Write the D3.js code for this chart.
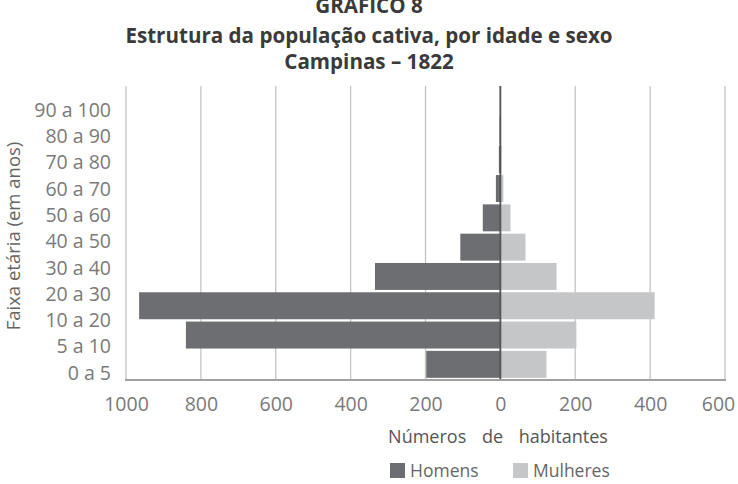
<!DOCTYPE html>
<html><head><meta charset="utf-8">
<script src="https://cdn.jsdelivr.net/npm/d3@7"></script>
<style>body{margin:0;background:#fff}svg{display:block}</style>
</head><body>
<svg id="c" width="738" height="484"></svg>
<script>
// Data (bars listed bottom → top, as drawn in the original)
const ageLabels = ["0 a 5","5 a 10","10 a 20","20 a 30","30 a 40","40 a 50","50 a 60","60 a 70","70 a 80","80 a 90","90 a 100"];
const barIndex = [0,1,2,3,4,5,6,7,8,9];
const homens   = [198, 840, 965, 335, 107, 47, 12, 4, 2, 1];
const mulheres = [123, 203, 412, 150,  67, 27,  8, 3, 1, 0];
const xTicks = [-1000,-800,-600,-400,-200,0,200,400,600];
const titleLines = ["GRÁFICO 8","Estrutura da população cativa, por idade e sexo","Campinas – 1822"];
const seriesNames = ["Homens","Mulheres"];
const colors = ["#6d6e71","#c5c6c8"];

const svg = d3.select("#c");
const font = "'Open Sans', 'Noto Sans', sans-serif";
const L = 126, R = 725, T = 86, B = 379;

const x = d3.scaleLinear().domain([-1000, 600]).range([L, R]);
const yBar = d3.scaleBand().domain(barIndex).range([B, T]).paddingInner(0.08).paddingOuter(0.04);
const yLab = d3.scalePoint().domain(ageLabels).range([373, 110]);

// title
const titleY = [13, 43, 69];
svg.append("g").selectAll("text").data(titleLines).join("text")
  .attr("x", 369).attr("y", (d,i) => titleY[i])
  .attr("text-anchor","middle").attr("font-family",font).attr("font-weight","bold")
  .attr("font-size",20.6).attr("fill","#3a3a3a").text(d => d);

// gridlines
svg.append("g").selectAll("line").data(xTicks).join("line")
  .attr("x1", d => x(d)).attr("x2", d => x(d)).attr("y1", T).attr("y2", B)
  .attr("stroke","#c4c4c4").attr("stroke-width",1.3);

// bars
const gb = svg.append("g");
gb.selectAll("rect.h").data(barIndex).join("rect").attr("class","h")
  .attr("x", i => x(-homens[i])).attr("width", i => x(0) - x(-homens[i]))
  .attr("y", i => yBar(i)).attr("height", yBar.bandwidth()).attr("fill", colors[0]);
gb.selectAll("rect.m").data(barIndex).join("rect").attr("class","m")
  .attr("x", x(0)).attr("width", i => x(mulheres[i]) - x(0))
  .attr("y", i => yBar(i)).attr("height", yBar.bandwidth()).attr("fill", colors[1]);

// zero line & baseline
svg.append("line").attr("x1", x(0)).attr("x2", x(0)).attr("y1", T).attr("y2", B+1)
  .attr("stroke","#555").attr("stroke-width",1.8);
svg.append("line").attr("x1", L-1).attr("x2", R+1).attr("y1", B+1).attr("y2", B+1)
  .attr("stroke","#a0a0a0").attr("stroke-width",2);

// x tick labels
const xa = svg.append("g").attr("transform", `translate(0,${B+1})`)
  .call(d3.axisBottom(x).tickValues(xTicks).tickSize(0).tickPadding(17).tickFormat(d => Math.abs(d)));
xa.select(".domain").remove();
xa.selectAll("text").attr("font-family",font).attr("font-size",19.5).attr("fill","#7a7a7a")
  .attr("dx", d => d === 600 ? -7 : 0);

// y labels
const ya = svg.append("g").attr("transform", `translate(111,0)`)
  .call(d3.axisLeft(yLab).tickSize(0).tickPadding(0));
ya.select(".domain").remove();
ya.selectAll("text").attr("font-family",font).attr("font-size",19.5).attr("fill","#7a7a7a");

// axis titles
svg.append("text").attr("x", 498).attr("y", 443).attr("text-anchor","middle")
  .attr("font-family",font).attr("font-size",18).attr("fill","#555").attr("word-spacing",11)
  .text("Números de habitantes");
svg.append("text").attr("transform","translate(20,236) rotate(-90)").attr("text-anchor","middle")
  .attr("font-family",font).attr("font-size",18.5).attr("fill","#666")
  .text("Faixa etária (em anos)");

// legend
const lx = [390, 513];
const lg = svg.append("g").selectAll("g").data(seriesNames).join("g")
  .attr("transform",(d,i)=>`translate(${lx[i]},463)`);
lg.append("rect").attr("width",15).attr("height",15).attr("fill",(d,i)=>colors[i]);
lg.append("text").attr("x",20).attr("y",14).attr("font-family",font).attr("font-size",17.5)
  .attr("fill","#666").text(d=>d);
</script>
</body></html>
